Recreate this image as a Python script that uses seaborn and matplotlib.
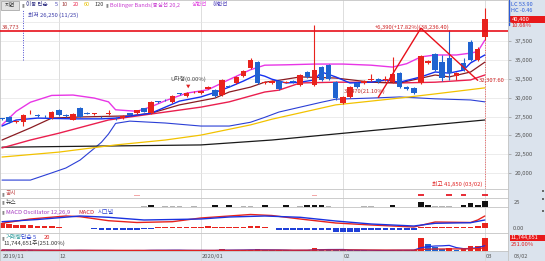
import numpy as np
import pandas as pd
import matplotlib
matplotlib.use("Agg")
import matplotlib.pyplot as plt
from matplotlib.patches import Rectangle
import seaborn as sns

sns.set_theme(style="white")
plt.rcParams['font.family'] = ['Noto Sans CJK KR', 'DejaVu Sans']
plt.rcParams['axes.unicode_minus'] = False

# ---------------- data ----------------
month_start = [0, 8, 28, 48, 68]
month_labels = ["2019/11", "12", "2020/01", "02", "03"]

opens = [27250, 27450, 26850, 26800, 28050, 27650, 27500, 27300, 28350, 27650,
         27050, 28650, 28000, 27800, 27500, 27800, 27350, 27300, 27950, 27950,
         28650, 27950, 29450, 29700, 29450, 30500, 30200, 30700, 30600, 31150,
         31000, 30350, 31600, 31950, 32850, 33950, 34700, 31950, 31950, 32200,
         32000, 32150, 31700, 33400, 31700, 34050, 34300, 32050, 29300, 30100,
         31950, 31950, 32300, 32450, 32400, 32050, 33250, 31400, 31300, 31950,
         34600, 35800, 34700, 35250, 32850, 34600, 37350, 35000, 38000]
highs = [27350, 27550, 27100, 27800, 28400, 27800, 27650, 28200, 28450, 27800,
         27950, 28750, 28100, 28000, 27600, 28350, 27450, 27650, 28000, 28400,
         28700, 29550, 29600, 29850, 30350, 30650, 30700, 30850, 31000, 31500,
         31100, 32500, 31700, 32850, 33650, 35250, 34900, 32200, 32300, 32300,
         32200, 32300, 33100, 33500, 39600, 34150, 34450, 32150, 30200, 31500,
         32050, 32300, 33200, 32600, 32900, 35400, 33350, 31500, 31400, 35600,
         34950, 35950, 35600, 38900, 33350, 35250, 37650, 36700, 41850]
lows = [27000, 26700, 26700, 26250, 27800, 27450, 27300, 27200, 27600, 27450,
        27000, 27400, 27800, 27700, 27350, 27700, 27000, 27200, 27650, 27900,
        28050, 27900, 29250, 29500, 29350, 30300, 30100, 30600, 30500, 31100,
        30100, 30200, 31350, 31850, 32750, 33850, 31850, 31850, 31850, 31050,
        31900, 32000, 31600, 32650, 31600, 32250, 32400, 29700, 29200, 30000,
        31300, 31850, 32150, 32000, 32250, 31950, 31300, 31050, 30500, 31850,
        34500, 33550, 32200, 32300, 32300, 33500, 34900, 34900, 37600]
closes = [27150, 26800, 26950, 27700, 28150, 27550, 27400, 28100, 27700, 27550,
          27850, 27450, 27900, 27850, 27400, 27850, 27250, 27550, 27700, 28350,
          28100, 29450, 29400, 29650, 30200, 30450, 30600, 30750, 30900, 31400,
          30200, 32350, 31450, 32750, 33550, 35000, 31950, 32100, 32200, 31150,
          32100, 32100, 33000, 32750, 33650, 32350, 32500, 29950, 30100, 31400,
          31400, 32200, 32350, 32100, 32450, 33150, 31400, 31150, 30600, 35500,
          34850, 33650, 32600, 33250, 33250, 33650, 35000, 36500, 40400]

volumes = [900000, 800000, 500000, 1100000, 700000, 450000, 400000, 600000, 650000, 400000,
           550000, 700000, 400000, 350000, 380000, 500000, 420000, 380000, 400000, 520000,
           480000, 1200000, 600000, 500000, 800000, 550000, 500000, 420000, 450000, 600000,
           550000, 1400000, 700000, 800000, 900000, 1300000, 1500000, 700000, 600000, 650000,
           500000, 450000, 800000, 700000, 2700000, 1300000, 1000000, 900000, 850000, 800000,
           600000, 500000, 450000, 420000, 400000, 1100000, 900000, 600000, 700000, 11300000,
           6300000, 3600000, 1400000, 2600000, 1300000, 1600000, 4500000, 4679000, 11744651]

ma5_idx = [0, 2, 5, 10, 14, 16, 21, 23, 25, 28, 30, 32, 34, 36, 37, 38, 40, 42, 44, 45,
           47, 49, 52, 54, 56, 59, 61, 63, 65, 66, 68]
ma5_val = [26250, 27050, 27300, 27200, 27200, 27300, 27950, 28750, 29550, 30100, 30700,
           31400, 32200, 33100, 32850, 32450, 31950, 32050, 32350, 33400, 32750, 31950,
           32050, 32350, 32050, 32750, 33400, 33250, 33650, 34600, 35650]
ma10_idx = [0, 4, 7, 11, 18, 21, 25, 30, 32, 35, 37, 39, 42, 47, 52, 56, 61, 63, 66, 68]
ma10_val = [24400, 26000, 27300, 27450, 27600, 27950, 29050, 29950, 30750, 31400, 32050,
            32300, 32750, 32600, 32050, 31950, 33000, 32750, 33400, 34700]
ma20_idx = [0, 4, 8, 15, 18, 23, 28, 32, 37, 39, 42, 47, 52, 56, 61, 66, 68]
ma20_val = [23350, 24400, 25300, 27050, 27450, 28100, 28750, 29450, 30750, 31000, 31950,
            32050, 32050, 31950, 32050, 32350, 33000]
ma60_idx = [0, 8, 16, 23, 28, 35, 38, 47, 56, 61, 68]
ma60_val = [22150, 22800, 23750, 24400, 25050, 26400, 27150, 29050, 29950, 30500, 31300]
ma120_idx = [0, 14, 28, 38, 47, 56, 68]
ma120_val = [23450, 23600, 23750, 24400, 25200, 26000, 27050]
bb_up_idx = [0, 2, 4, 7, 10, 13, 15, 16, 19, 21, 23, 26, 29, 32, 35, 37, 40, 44, 48, 52,
             55, 57, 59, 61, 64, 66, 67, 68]
bb_up_val = [26400, 28200, 29400, 30300, 30350, 29950, 29450, 28400, 28200, 28800, 29600,
             30600, 31050, 32400, 33700, 34300, 34350, 34450, 34450, 34300, 34050, 34500,
             35400, 35650, 35650, 35900, 36100, 37600]
bb_lo_idx = [0, 4, 7, 9, 11, 13, 14, 15, 16, 18, 23, 28, 32, 35, 37, 39, 42, 45, 47, 52,
             56, 61, 66, 68]
bb_lo_val = [19100, 19100, 20050, 20700, 21750, 23300, 24100, 25200, 26600, 26900, 26650,
             26250, 26250, 26750, 27400, 28100, 28750, 29400, 29800, 29950, 30100, 29850,
             29700, 29450]

ref_line_price = 38773
tri_idx = [53, 59, 67]
tri_price = [30050, 39200, 32300]

macd_idx = [0, 4, 9, 11, 15, 19, 24, 28, 32, 35, 38, 42, 47, 52, 58, 61, 66, 67, 68]
macd_val = [235, 450, 600, 565, 365, 275, 315, 500, 600, 675, 625, 450, 250, 150, 50,
            300, 275, 400, 600]
signal_idx = [0, 5, 11, 15, 20, 28, 32, 37, 42, 47, 52, 58, 61, 66, 68]
signal_val = [315, 425, 600, 535, 400, 450, 550, 600, 535, 350, 200, 100, 235, 265, 400]
osc_val = [250, 215, 165, 165, 150, 115, 115, 85, 40, 25, 25, 15, -20, -60, -115, -115,
           -115, -115, -115, -100, -60, -40, 30, 30, 35, 35, 30, 35, 45, 115, 35, 35, 30,
           35, 50, 115, 115, 45, -20, -115, -115, -115, -115, -115, -100, -100, -115, -200,
           -200, -200, -200, -115, -115, -115, -115, -115, -115, -115, -100, 40, 50, 45,
           50, 45, 40, 45, 50, 125, 265]

news_idx = [20, 21, 23, 24, 25, 27, 30, 32, 34, 35, 37, 40, 42, 43, 44, 45, 46, 51, 52,
            55, 59, 60, 61, 62, 63, 65, 66, 67, 68]
news_cnt = [1, 2, 1, 1, 1, 1, 2, 2, 1, 1, 2, 2, 1, 2, 2, 2, 1, 1, 1, 2, 5, 2, 1, 1, 1,
            2, 4, 2, 6]
disc_idx = [19, 44, 59, 63, 65, 68]
disc_cnt = [1, 1, 2, 2, 2, 2]

# ---------------- layout helpers ----------------
W, H = 545, 261
fig = plt.figure(figsize=(W / 100, H / 100), dpi=100, facecolor='white')


def rect(x0, y0, x1, y1):
    return [x0 / W, 1 - y1 / H, (x1 - x0) / W, (y1 - y0) / H]


def ftext(x, y, s, color='#333333', size=4.2, ha='left', va='center', **kw):
    return fig.text(x / W, 1 - y / H, s, color=color, fontsize=size, ha=ha, va=va, **kw)


STRIP = '#dbe3ed'
GRID = '#e4e4e4'
RED = '#e8231d'
BLUE = '#1f63d0'
XMIN, XMAX = -2 / 7.1, 506 / 7.1
idx = np.arange(len(closes))

# right strip
ax_rs = fig.add_axes(rect(508, 0, 545, 261))
ax_rs.set_facecolor(STRIP)
ax_rs.set_xticks([]); ax_rs.set_yticks([])
for s in ax_rs.spines.values():
    s.set_visible(False)
ax_rs.set_xlim(508, 545); ax_rs.set_ylim(261, 0)


def style_panel(a):
    a.set_xlim(XMIN, XMAX)
    a.set_xticks([])
    a.set_yticks([])
    for s in a.spines.values():
        s.set_color('#c4c4c4'); s.set_linewidth(0.6)
    for m in month_start[1:]:
        a.axvline(m, color='#d8d8d8', lw=0.6, zorder=0)
    a.set_xlabel(''); a.set_ylabel('')


# ---------------- main price panel ----------------
ax = fig.add_axes(rect(0, 0, 508, 189))
lines = [
    (bb_lo_idx, bb_lo_val, '#2b3fd6', 0.8),
    (ma120_idx, ma120_val, '#1a1a1a', 0.9),
    (ma60_idx, ma60_val, '#f2c200', 0.9),
    (ma20_idx, ma20_val, '#ea1f4e', 1.0),
    (ma10_idx, ma10_val, '#8a1c22', 0.9),
    (bb_up_idx, bb_up_val, '#e836e6', 1.0),
    (ma5_idx, ma5_val, '#1530f0', 1.0),
]
for xi, yv, c, lw in lines:
    sns.lineplot(x=xi, y=yv, ax=ax, color=c, linewidth=lw, estimator=None,
                 errorbar=None, legend=False, zorder=2)

o = np.array(opens); c = np.array(closes)
up = c >= o
cols = np.where(up, RED, BLUE)
ax.vlines(idx, lows, highs, colors=cols, linewidth=0.8, zorder=3)
body_lo = np.minimum(o, c)
body_h = np.maximum(np.abs(c - o), 110)
ax.bar(idx, body_h, bottom=body_lo, width=0.78, color=cols, linewidth=0, zorder=4)

ax.axhline(ref_line_price, color='#e8101a', lw=1.2, zorder=5)
sns.lineplot(x=tri_idx, y=tri_price, ax=ax, color='#e8101a', linewidth=1.0,
             estimator=None, errorbar=None, legend=False, sort=False, zorder=5)
ax.axvline(3, ymin=1 - 60 / 189, ymax=1 - 10 / 189, color='#4a4ad0', lw=0.7,
           ls=(0, (1, 1.5)), zorder=1)
ax.axvline(68, ymin=0, ymax=1 - 40 / 189, color='#f06060', lw=0.7,
           ls=(0, (1, 1.5)), zorder=1)

style_panel(ax)
ax.set_ylim(17920, 42925)
price_ticks = [20000, 22500, 25000, 27500, 30000, 32500, 35000, 37500, 40000]
ax.set_yticks(price_ticks)
ax.set_yticklabels([f"{v:,}" if v < 40000 else "" for v in price_ticks])
ax.yaxis.tick_right()
ax.tick_params(axis='y', right=True, left=False, length=2, width=0.5, color='#9a9a9a',
               pad=3, labelsize=4.3, labelcolor='#555555')
ax.grid(axis='y', color=GRID, lw=0.5)
ax.set_axisbelow(True)

# ---------------- disclosure row ----------------
ax_dc = fig.add_axes(rect(0, 189, 508, 198))
dcols = ['#f4a8a8' if v == 1 else '#e8303a' for v in disc_cnt]
ax_dc.bar(disc_idx, [0.9 * v for v in disc_cnt], bottom=2.4, width=0.8, color=dcols,
          linewidth=0)
style_panel(ax_dc)
ax_dc.set_ylim(0, 9)

# ---------------- news row ----------------
ax_nw = fig.add_axes(rect(0, 198, 508, 207))
ncols = ['#b4b4b4' if v == 1 else '#111111' for v in news_cnt]
ax_nw.bar(news_idx, news_cnt, bottom=0.3, width=0.8, color=ncols, linewidth=0)
style_panel(ax_nw)
ax_nw.set_ylim(0, 9)

# ---------------- MACD ----------------
ax_m = fig.add_axes(rect(0, 207, 508, 233))
ocols = np.where(np.array(osc_val) >= 0, '#e8231d', '#1e3fd8')
ax_m.bar(idx, osc_val, width=0.8, color=ocols, linewidth=0, zorder=2)
sns.lineplot(x=macd_idx, y=macd_val, ax=ax_m, color='#e8231d', linewidth=1.0,
             estimator=None, errorbar=None, legend=False, zorder=3)
sns.lineplot(x=signal_idx, y=signal_val, ax=ax_m, color='#1a32e0', linewidth=1.0,
             estimator=None, errorbar=None, legend=False, zorder=3)
style_panel(ax_m)
ax_m.set_ylim(-250, 1050)

# ---------------- volume ----------------
ax_v = fig.add_axes(rect(0, 233, 508, 251))
vol = pd.Series(volumes, dtype=float)
vcols = np.where(vol.diff().fillna(1) >= 0, '#e8231d', '#1f63d0')
ax_v.bar(idx, vol, width=0.8, color=vcols, linewidth=0, zorder=2)
sns.lineplot(x=idx, y=vol.rolling(5, min_periods=1).mean(), ax=ax_v, color='#2030e0',
             linewidth=0.9, estimator=None, errorbar=None, legend=False, zorder=3)
sns.lineplot(x=idx, y=vol.rolling(20, min_periods=1).mean(), ax=ax_v, color='#e02020',
             linewidth=0.9, estimator=None, errorbar=None, legend=False, zorder=3)
style_panel(ax_v)
ax_v.set_ylim(0, 16.2e6)

# ---------------- date strip ----------------
ax_d = fig.add_axes(rect(0, 251, 508, 261))
ax_d.set_facecolor(STRIP)
style_panel(ax_d)
ax_d.set_ylim(0, 1)
for m, lab in zip(month_start, month_labels):
    ax_d.text(m + 0.15, 0.45, lab, fontsize=4.2, color='#555555', ha='left', va='center')

# ---------------- texts ----------------
# header
fig.patches.append(Rectangle((0.5 / W, 1 - 9.5 / H), 18 / W, 8 / H, transform=fig.transFigure,
                             facecolor='#e2e2e2', edgecolor='#9a9a9a', lw=0.5))
ftext(9.5, 5.5, "지연", '#333333', 4.0, ha='center')
ftext(21, 5, "▮", '#8a8a8a', 3.6)
ftext(26, 5, "이동 단순", '#2a2a80', 4.0)
ftext(54.5, 5, "5", '#4040b0', 4.0)
ftext(61.5, 5, "10", '#a03a3a', 4.0)
ftext(73, 5, "20", '#ea2a50', 4.0)
ftext(84, 5, "60", '#e8c000', 4.0)
ftext(94.5, 5, "120", '#333333', 4.0)
ftext(106, 5, "▮", '#8a8a8a', 3.6)
ftext(110, 5, "Bollinger Bands(중심선 20,2", '#c83ad0', 4.0)
ftext(192, 5, "상한선", '#e040e0', 4.0)
ftext(213, 5, "하한선", '#4a3ab8', 4.0)
ftext(28, 15, "최저 26,250 (11/25)", '#3838a8')
ftext(1.5, 27, "38,773", '#c23a3a')

# annotations on price chart
ftext(412, 27.5, "+6,390(+17.82%)(38,236.40)", '#d02020', ha='center')
ftext(386, 91.5, "33,470(21.10%)", '#c02828', ha='right')
ftext(479, 80.5, "32,307.60", '#d02020')
ftext(188, 78.5, "U자형(0.00%)", '#444444', ha='center')
ftext(188, 86.5, "▼", '#e02020', 3.2, ha='center')
ftext(482, 184, "최고 41,850 (03/02)", '#e02020', ha='right')

# sub panel labels
ftext(1.5, 193.5, "▮", '#8a8a8a', 3.6)
ftext(6, 193.5, "공시", '#c04040')
ftext(1.5, 202, "▮", '#8a8a8a', 3.6)
ftext(6, 202, "뉴스", '#333333')
ftext(1.5, 212, "▮", '#8a8a8a', 3.6)
ftext(6, 212, "MACD Oscillator 12,26,9", '#a43ac0')
ftext(78, 212, "MACD", '#d02030')
ftext(98, 212, "시그널", '#2a40d0')
ftext(1.5, 237.5, "▮", '#8a8a8a', 3.6)
ftext(6, 237.5, "거래량", '#2a9a9a')
ftext(21, 237.5, "단순 5", '#2a40d0')
ftext(44, 237.5, "20", '#e02020')
ftext(3, 243.5, "11,744,651주(251.00%)", '#333333')

# right strip texts / boxes
ax_rs.axvline(508.8, ymin=1 - 25 / 261, ymax=1, color='#2a5ad8', lw=1.0)
ax_rs.add_patch(Rectangle((509.5, 16), 35.5, 6.5, facecolor='#e8181a', edgecolor='none'))
ax_rs.add_patch(Rectangle((509.5, 234.5), 35.5, 6.5, facecolor='#e8181a', edgecolor='none'))
for yy in (191, 199, 211):
    ax_rs.add_patch(Rectangle((541.5, yy - 1.2), 2.4, 2.4, facecolor='#6a6a6a', edgecolor='none'))
ftext(511, 5, "LC 53.90", '#2a5ad8', 4.0)
ftext(511, 11, "HC -0.46", '#2a5ad8', 4.0)
ftext(512, 19.3, "40,400", 'white', 4.2)
ftext(511, 25.5, "10.68%", '#e02020', 4.2)
ftext(514, 203, "25", '#555555', 4.2)
ftext(513, 228.5, "0.00", '#555555', 4.2)
ftext(511, 237.8, "11,744,651", 'white', 4.0)
ftext(511, 244.5, "251.00%", '#e02020', 4.2)
ftext(514, 256.5, "03/02", '#555555', 4.0)

fig.savefig("out.png", dpi=100, facecolor='white')
